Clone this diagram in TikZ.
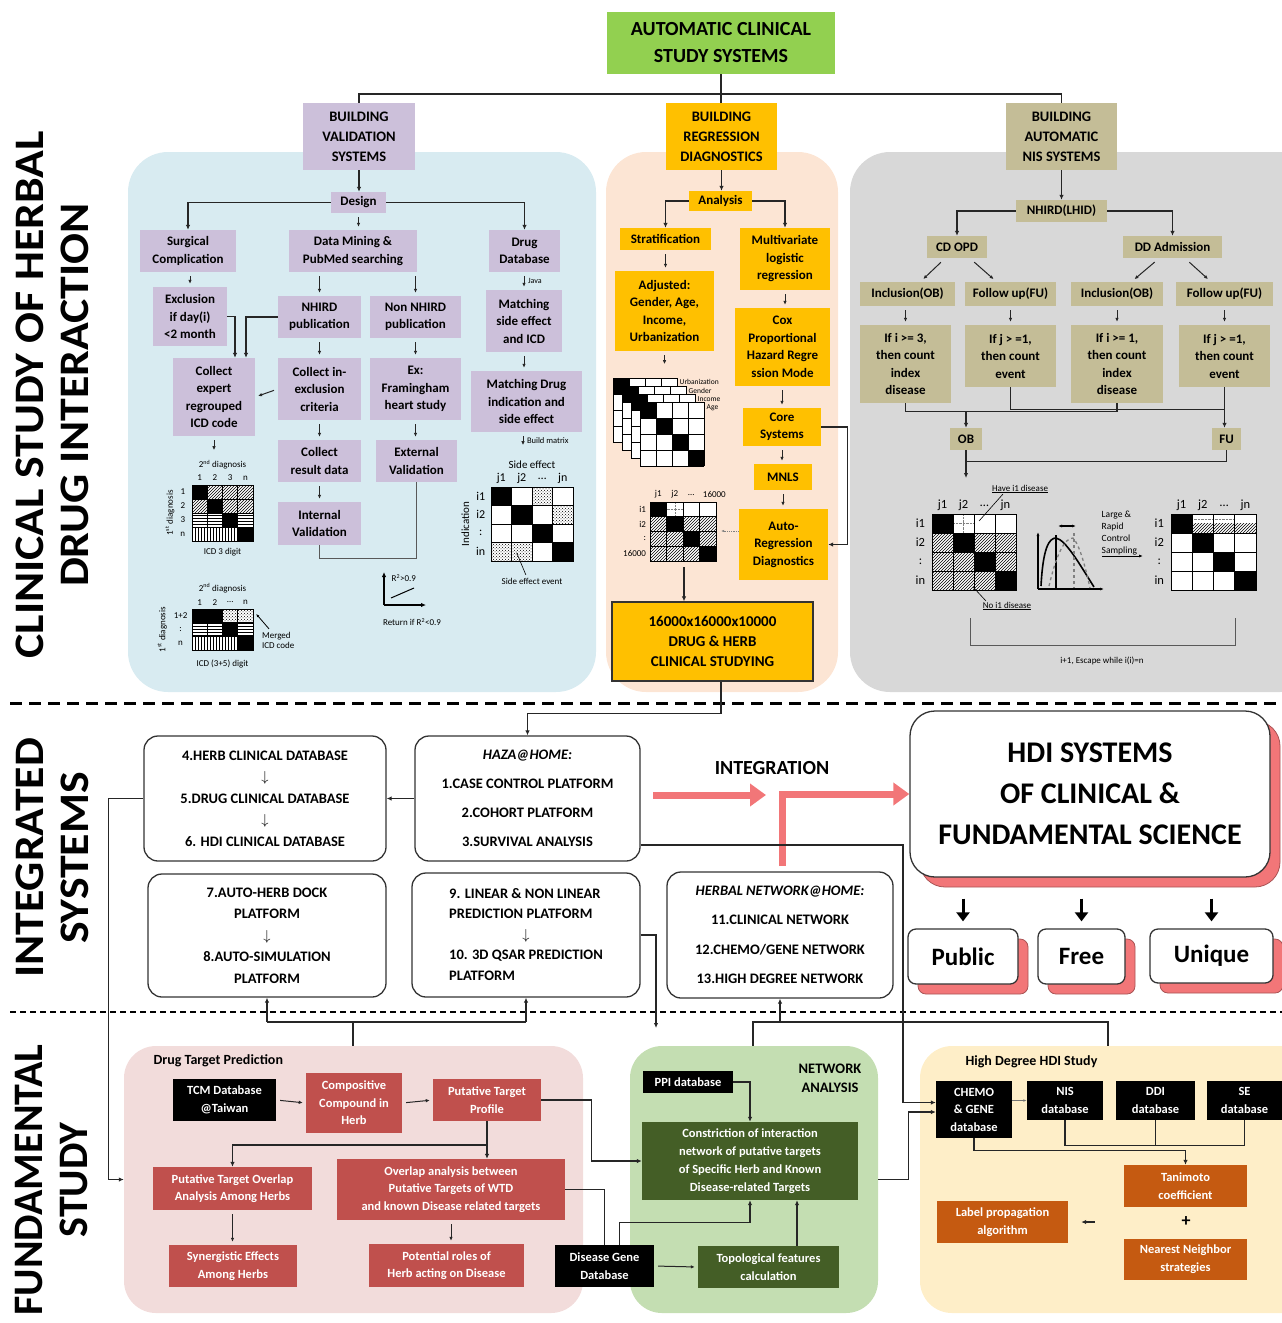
\documentclass[tikz,border=0pt]{standalone}
\usepackage{fontspec}
\setmainfont{Carlito}
\newfontfamily\lblfont[FakeStretch=1.09]{Carlito}
\usetikzlibrary{arrows.meta,patterns,calc}
\definecolor{titleg}{RGB}{146,208,80}
\definecolor{lavc}{RGB}{204,192,218}
\definecolor{orc}{RGB}{255,192,0}
\definecolor{tanc}{RGB}{196,189,151}
\definecolor{bluep}{RGB}{216,235,241}
\definecolor{peachp}{RGB}{252,229,212}
\definecolor{grayp}{RGB}{216,216,216}
\definecolor{pinkp}{RGB}{242,220,219}
\definecolor{redc}{RGB}{192,80,77}
\definecolor{greenp}{RGB}{196,222,178}
\definecolor{dgreenc}{RGB}{68,94,38}
\definecolor{yellowp}{RGB}{254,238,200}
\definecolor{brownc}{RGB}{197,90,17}
\definecolor{salmon}{RGB}{242,118,120}
\newcommand{\fs}[2]{\fontsize{#1}{#2}\selectfont}
\newcommand{\bx}[7]{\node[#6, minimum width={(#4-#2)*1pt}, minimum height={(#5-#3)*1pt}] (#1) at ({(#2+#4)/2},{(#3+#5)/2}) {#7};}
\newcommand{\glines}[2]{\foreach \ii in {0,...,#1}{\draw[line width=0.6pt] (\ii,0)--(\ii,#2);}\foreach \jj in {0,...,#2}{\draw[line width=0.6pt] (0,\jj)--(#1,\jj);}}
\tikzset{
 box/.style={inner sep=1pt, align=center, font=\bfseries\fs{13}{17.5}},
 lav/.style={box, fill=lavc},
 orb/.style={box, fill=orc},
 tanb/.style={box, fill=tanc},
 blk/.style={box, fill=black, text=white, font=\bfseries\fs{12.5}{17.5}},
 redb/.style={box, fill=redc, text=white, font=\bfseries\fs{12.5}{17.5}},
 dgb/.style={box, fill=dgreenc, text=white, font=\bfseries\fs{12.5}{18}},
 brb/.style={box, fill=brownc, text=white, font=\bfseries\fs{12.5}{18}},
 panel/.style={rounded corners=40pt, inner sep=0pt, draw=none},
 rbox/.style={box, draw=black!80, line width=1.3pt, fill=white, rounded corners=14pt, font=\bfseries\fs{14.5}{21.5}},
 shbox/.style={rbox, preaction={fill=salmon, draw=salmon!70!black, line width=0.8pt, transform canvas={xshift=10pt,yshift=-10pt}}},
 conn/.style={draw=black!85, line width=1.3pt},
 arr/.style={conn, -{Latex[length=5pt,width=4.5pt]}},
 sarr/.style={draw=black!85, line width=1pt, -{Latex[length=4pt,width=3.5pt]}, shorten <=4pt, shorten >=3pt},
 thinl/.style={draw=black!65, line width=0.9pt},
 lbl/.style={font=\fs{9}{10}, inner sep=0.5pt},
 mlbl/.style={font=\fs{12}{13}, inner sep=0.5pt},
 salarr/.style={draw=salmon, line width=7pt, -{Triangle[length=16pt,width=22pt]}},
 bigarr/.style={draw=black, line width=3pt, -{Triangle[length=9pt,width=13pt]}},
 biglbl/.style={rotate=90, align=center, font=\lblfont\bfseries\fs{42}{45}},
}
\begin{document}
\begin{tikzpicture}[x=1pt,y=-1pt]
\useasboundingbox (0,0) rectangle (1282,1323);
% ---------------- panels
\node[panel, fill=bluep, minimum width=468pt, minimum height=540pt] (pblue) at (362,422) {};
\node[panel, fill=peachp, minimum width=232pt, minimum height=540pt] (ppeach) at (722,422) {};
\node[panel, fill=grayp, minimum width=470pt, minimum height=540pt] (pgray) at (1085,422) {};
\node[panel, rounded corners=32pt, fill=pinkp, minimum width=459pt, minimum height=267pt] (ppink) at (353.5,1179.5) {};
\node[panel, rounded corners=32pt, fill=greenp, minimum width=248pt, minimum height=267pt] (pgreen) at (754,1179.5) {};
\node[panel, rounded corners=32pt, fill=yellowp, minimum width=400pt, minimum height=267pt] (pyellow) at (1120,1179.5) {};
% ---------------- left labels and separators
\node[biglbl] (lab1) at (52,395) {CLINICAL STUDY OF HERBAL\\DRUG INTERACTION};
\node[biglbl] (lab2) at (52,858) {INTEGRATED\\SYSTEMS};
\node[biglbl, font=\bfseries\fs{42}{45}] (lab3) at (52,1180) {FUNDAMENTAL\\STUDY};
\draw[line width=3pt, dash pattern=on 12pt off 7pt] (10,703) -- (1282,703);
\draw[line width=1.6pt, dash pattern=on 6pt off 4pt] (10,1012) -- (1282,1012);
% ---------------- top
\bx{title}{607}{12}{835}{74}{box, fill=titleg, font=\bfseries\fs{20}{27}}{AUTOMATIC CLINICAL\\STUDY SYSTEMS}
\bx{bval}{303}{103}{415}{170}{lav, font=\bfseries\fs{14.5}{20}}{BUILDING\\VALIDATION\\SYSTEMS}
\bx{breg}{666}{103}{777}{170}{orb, font=\bfseries\fs{14.5}{20}}{BUILDING\\REGRESSION\\DIAGNOSTICS}
\bx{bnis}{1006}{103}{1117}{170}{tanb, font=\bfseries\fs{14.5}{20}}{BUILDING\\AUTOMATIC\\NIS SYSTEMS}
\coordinate (hb) at (0,94);
\draw[conn] (title.south) -- (title.south |- breg.north);
\draw[conn] (bval.north) -- (bval.north |- hb) -- (bnis.north |- hb) -- (bnis.north);
% ---------------- blue panel
\bx{design}{331}{192}{386}{213}{lav}{Design}
\bx{surg}{140}{230}{236}{272}{lav}{Surgical\\Complication}
\bx{dm}{289}{230}{417}{272}{lav}{Data Mining \&\\PubMed searching}
\bx{drugdb}{489}{230}{560}{272}{lav}{Drug\\Database}
\bx{excl}{153}{287}{227}{346}{lav}{Exclusion\\if day(i)\\<2 month}
\bx{nhird}{278}{296}{361}{338}{lav}{NHIRD\\publication}
\bx{nonnhird}{370}{296}{461}{338}{lav}{Non NHIRD\\publication}
\bx{msei}{486}{290}{562}{352}{lav}{Matching\\side effect\\and ICD}
\bx{mdi}{471}{371}{582}{432}{lav}{Matching Drug\\indication and\\side effect}
\bx{cexp}{173}{358}{255}{436}{lav}{Collect\\expert\\regrouped\\ICD code}
\bx{cinex}{278}{358}{361}{420}{lav}{Collect in-\\exclusion\\criteria}
\bx{exfr}{370}{358}{461}{420}{lav}{Ex:\\Framingham\\heart study}
\bx{cres}{278}{440}{361}{482}{lav}{Collect\\result data}
\bx{extv}{376}{440}{457}{482}{lav}{External\\Validation}
\bx{intv}{278}{502}{361}{545}{lav}{Internal\\Validation}
\draw[arr] (bval.south) -- (bval.south |- design.north);
\draw[arr] (design.west) -| (surg.north);
\draw[arr] (design.east) -| (drugdb.north);
\draw[sarr] (design.south) -- (design.south |- dm.north);
\draw[sarr] (excl.north |- surg.south) -- (excl.north);
\draw[sarr] (nhird.north |- dm.south) -- (nhird.north);
\draw[sarr] (nonnhird.north |- dm.south) -- (nonnhird.north);
\draw[sarr] (msei.north |- drugdb.south) -- (msei.north) node[midway, right=3pt, lbl, font=\fs{8}{9}] {Java};
\draw[sarr] (msei.south) -- (msei.south |- mdi.north);
\draw[arr] (excl.east) -| ([xshift=21pt]cexp.north);
\draw[arr] (nhird.west) -| ([xshift=32pt]cexp.north);
\draw[sarr] (cinex.west) -- (cexp.east);
\draw[sarr] (nhird.south) -- (nhird.south |- cinex.north);
\draw[sarr] (nonnhird.south) -- (nonnhird.south |- exfr.north);
\draw[sarr] (cinex.south) -- (cinex.south |- cres.north);
\draw[sarr] (exfr.south) -- (exfr.south |- extv.north);
\draw[sarr] (cres.south) -- (cres.south |- intv.north);
\draw[thinl] (intv.south) -- ++(0,13) -| (extv.south);
\draw[sarr] (cexp.south) -- ++(0,17);
\draw[sarr] (mdi.south -| 523,0) -- ++(0,16) node[midway, right=3pt, lbl, font=\fs{8.5}{9}] {Build matrix};
% R2 graph
\draw[line width=1.3pt, -{Latex[length=5pt,width=4.5pt]}] (384,605) -- (384,572);
\draw[line width=1.3pt, -{Latex[length=5pt,width=4.5pt]}] (384,605) -- (426,605);
\draw[line width=1pt] (391,598) -- (414,588);
\node[lbl, anchor=west] (r2a) at (391,578) {R\textsuperscript{2}>0.9};
\node[lbl] (r2b) at (412,622) {Return if R\textsuperscript{2}<0.9};
% matrix ICD 3 digit
\begin{scope}[shift={(192,485)}, x=15.25pt, y=-14pt]
 \fill[white] (0,0) rectangle (4,4);
 \foreach \cc/\rr in {1/0,2/0,3/0,0/1,2/1,3/1} \fill[pattern=north east lines] (\cc,\rr) rectangle ++(1,1);
 \foreach \cc/\rr in {0/2,1/2,3/2} \fill[pattern=horizontal lines] (\cc,\rr) rectangle ++(1,1);
 \foreach \cc/\rr in {0/3,1/3,2/3} \fill[pattern=vertical lines] (\cc,\rr) rectangle ++(1,1);
 \foreach \cc in {0,1,2,3} \fill (\cc,\cc) rectangle ++(1,1);
 \glines{4}{4}
 \draw[line width=1pt] (0,0) rectangle (4,4);
 \foreach \t [count=\k from 0] in {1,2,3,n} {\node[lbl] at (\k+0.5,-0.5) {\t}; \node[lbl] at (-0.6,\k+0.5) {\t};}
 \node[lbl] at (2,-1.45) {2\textsuperscript{nd} diagnosis};
 \node[lbl, rotate=90] at (-1.45,2) {1\textsuperscript{st} diagnosis};
 \node[lbl] at (2,4.8) {ICD 3 digit};
\end{scope}
% matrix ICD (3+5)
\begin{scope}[shift={(192,609)}, x=15.25pt, y=-13.7pt]
 \fill[white] (0,0) rectangle (4,3);
 \foreach \cc/\rr in {2/0,3/0} \fill[pattern=crosshatch dots] (\cc,\rr) rectangle ++(1,1);
 \foreach \cc/\rr in {0/1,1/1,3/1} \fill[pattern=horizontal lines] (\cc,\rr) rectangle ++(1,1);
 \foreach \cc/\rr in {0/2,1/2,2/2} \fill[pattern=vertical lines] (\cc,\rr) rectangle ++(1,1);
 \foreach \cc/\rr in {0/0,1/0,2/1,3/2} \fill (\cc,\rr) rectangle ++(1,1);
 \glines{4}{3}
 \draw[line width=1pt] (0,0) rectangle (4,3);
 \foreach \t [count=\k from 0] in {1,2,\ldots,n} \node[lbl] at (\k+0.5,-0.5) {\t};
 \foreach \t [count=\k from 0] in {1+2,:,n} \node[lbl] at (-0.75,\k+0.5) {\t};
 \node[lbl] at (2,-1.5) {2\textsuperscript{nd} diagnosis};
 \node[lbl, rotate=90] at (-1.95,1.5) {1\textsuperscript{st} diagnosis};
 \node[lbl] at (2,4) {ICD (3+5) digit};
 \node[lbl, anchor=west, align=left] (merged) at (4.55,2.3) {Merged\\ICD code};
 \draw[line width=0.8pt, -{Latex[length=3.5pt]}] (5.05,1.45) -- (4.2,0.35);
\end{scope}
% drug side effect matrix
\begin{scope}[shift={(491,487)}, x=20.5pt, y=-18.5pt]
 \fill[white] (0,0) rectangle (4,4);
 \foreach \cc/\rr in {2/0,3/1,0/3,1/3} \fill[pattern=crosshatch dots] (\cc,\rr) rectangle ++(1,1);
 \foreach \cc in {0,1,2,3} \fill (\cc,\cc) rectangle ++(1,1);
 \glines{4}{4}
 \draw[line width=1pt] (0,0) rectangle (4,4);
 \foreach \t [count=\k from 0] in {j1,j2,\ldots,jn} \node[mlbl] at (\k+0.5,-0.45) {\t};
 \foreach \t [count=\k from 0] in {i1,i2,:,in} \node[mlbl] at (-0.5,\k+0.5) {\t};
 \node[lbl, font=\fs{11}{12}] at (2,-1.2) {Side effect};
 \node[lbl, rotate=90, font=\fs{11}{12}] at (-1.25,2) {Indication};
 \node[lbl] at (2,5.1) {Side effect event};
 \draw[line width=0.6pt] (1.7,4.75) -- (1.25,3.55);
\end{scope}
% ---------------- peach panel
\bx{analysis}{689}{191}{752}{211}{orb}{Analysis}
\bx{strat}{620}{228}{711}{250}{orb}{Stratification}
\bx{multi}{740}{228}{830}{290}{orb}{Multivariate\\logistic\\regression}
\bx{adj}{615}{271}{714}{351}{orb}{Adjusted:\\Gender, Age,\\Income,\\Urbanization}
\bx{cox}{735}{308}{830}{386}{orb}{Cox\\Proportional\\Hazard Regre\\ssion Mode}
\bx{core}{743}{408}{821}{446}{orb}{Core\\Systems}
\bx{mnls}{754}{464}{812}{490}{orb}{MNLS}
\bx{auto}{739}{509}{828}{580}{orb}{Auto-\\Regression\\Diagnostics}
\bx{big}{612}{602}{813}{681}{orb, draw=black!80, line width=1.3pt, font=\bfseries\fs{15}{20}}{16000x16000x10000\\DRUG \& HERB\\CLINICAL STUDYING}
\draw[arr] (breg.south) -- (breg.south |- analysis.north);
\draw[arr] (analysis.west) -| (strat.north);
\draw[arr] (analysis.east) -| (multi.north);
\draw[sarr] (strat.south) -- (strat.south |- adj.north);
\draw[sarr] (multi.south) -- (multi.south |- cox.north);
\draw[sarr] (core.north |- cox.south) -- (core.north);
\draw[sarr] (core.south) -- (core.south |- mnls.north);
\draw[sarr] (mnls.south) -- (mnls.south |- auto.north);
\draw[arr] (core.east) -- ++(26,0) |- (auto.east);
\draw[sarr] (adj.south) -- ++(0,16);
% stacked matrices
\foreach \k in {0,1,2,3} {
 \begin{scope}[shift={({613+9*\k},{378+8*\k})}, x=16pt, y=-16pt]
  \fill[white] (0,0) rectangle (4,4);
  \foreach \cc in {0,1,2,3} \fill (\cc,\cc) rectangle ++(1,1);
  \glines{4}{4}
 \end{scope}
}
\foreach \t [count=\k from 0] in {Urbanization,Gender,Income,Age}
 \node[lbl, font=\fs{7.5}{8}, anchor=west] at ({679+9*\k},{382+8.5*\k}) {\t};
% 16000 matrix
\begin{scope}[shift={(650,502)}, x=16.5pt, y=-14.75pt]
 \fill[white] (0,0) rectangle (4,4);
 \foreach \cc/\rr in {0/1,2/1,3/1,0/2,1/2,3/2,0/3,1/3,2/3} \fill[pattern=north east lines] (\cc,\rr) rectangle ++(1,1);
 \foreach \cc in {0,1,2,3} \fill (\cc,\cc) rectangle ++(1,1);
 \draw[gray, densely dotted] (1.5,0) -- (1.5,1) (1,0.5) -- (2,0.5);
 \glines{4}{4}
 \draw[line width=1pt] (0,0) rectangle (4,4);
 \foreach \t [count=\k from 0] in {j1,j2,\ldots} \node[lbl] at (\k+0.5,-0.5) {\t};
 \node[lbl] at (3.9,-0.5) {16000};
 \foreach \t [count=\k from 0] in {i1,i2,:,16000} \node[lbl, anchor=east] at (-0.2,\k+0.5) {\t};
\end{scope}
\draw[densely dotted, line width=0.8pt, gray, -{Latex[length=3pt]}] (auto.west |- 0,531) -- (721,531);
\draw[arr] (684,567) -- (684,0 |- big.north);
% ---------------- gray panel
\bx{nhirdl}{1016}{200}{1107}{222}{tanb}{NHIRD(LHID)}
\bx{cdopd}{927}{236}{987}{258}{tanb}{CD OPD}
\bx{ddadm}{1123}{236}{1222}{258}{tanb}{DD Admission}
\bx{inc1}{860}{282}{955}{306}{tanb}{Inclusion(OB)}
\bx{fu1}{965}{282}{1056}{306}{tanb}{Follow up(FU)}
\bx{inc2}{1071}{282}{1163}{306}{tanb}{Inclusion(OB)}
\bx{fu2}{1176}{282}{1273}{306}{tanb}{Follow up(FU)}
\bx{c1}{860}{325}{951}{403}{tanb}{If i >= 3,\\then count\\index\\disease}
\bx{c2}{965}{325}{1056}{387}{tanb}{If j > =1,\\then count\\event}
\bx{c3}{1071}{325}{1163}{403}{tanb}{If i >= 1,\\then count\\index\\disease}
\bx{c4}{1179}{325}{1270}{387}{tanb}{If j > =1,\\then count\\event}
\bx{ob}{950}{428}{982}{450}{tanb}{OB}
\bx{fu}{1212}{428}{1241}{450}{tanb}{FU}
\draw[arr] (bnis.south) -- (nhirdl.north);
\draw[arr] (nhirdl.west) -| (cdopd.north);
\draw[arr] (nhirdl.east) -| (ddadm.north);
\draw[sarr, shorten <=6pt, shorten >=4pt] (cdopd) -- (inc1);
\draw[sarr, shorten <=6pt, shorten >=4pt] (cdopd) -- (fu1);
\draw[sarr, shorten <=6pt, shorten >=4pt] (ddadm) -- (inc2);
\draw[sarr, shorten <=6pt, shorten >=4pt] (ddadm) -- (fu2);
\foreach \a/\b in {inc1/c1,fu1/c2,inc2/c3,fu2/c4} \draw[sarr] (\b.north |- \a.south) -- (\b.north);
\draw[conn] (c1.south) -- ++(0,8) -| (c3.south);
\draw[conn] (c2.south) -- ++(0,22) -| (c4.south);
\draw[arr] (ob.north |- 0,411) -- (ob.north);
\draw[arr] (c4.south |- 0,409) -- (c4.south |- fu.north);
\draw[conn] (ob.south) -- ++(0,11) -| (fu.south);
\draw[arr] (ob.south |- 0,461) -- ++(0,17);
% left gray matrix
\begin{scope}[shift={(932,514)}, x=21pt, y=-19pt]
 \fill[white] (0,0) rectangle (4,4);
 \foreach \cc/\rr in {0/1,2/1,3/1,0/2,1/2,3/2,0/3,1/3,2/3} \fill[pattern=north east lines] (\cc,\rr) rectangle ++(1,1);
 \foreach \cc in {0,1,2,3} \fill (\cc,\cc) rectangle ++(1,1);
 \draw[gray, densely dotted] (1.5,0) -- (1.5,1) (1,0.5) -- (2,0.5);
 \glines{4}{4}
 \draw[line width=1pt] (0,0) rectangle (4,4);
 \foreach \t [count=\k from 0] in {j1,j2,\ldots,jn} \node[mlbl, font=\fs{12.5}{13}] at (\k+0.5,-0.45) {\t};
 \foreach \t [count=\k from 0] in {i1,i2,:,in} \node[mlbl, font=\fs{12.5}{13}] at (-0.55,\k+0.5) {\t};
\end{scope}
\node[lbl] (have) at (1020,489) {\underline{Have i1 disease}};
\draw[line width=0.6pt] (1003,494) -- (979,521);
\node[lbl] (noi) at (1007,606) {\underline{No i1 disease}};
\draw[line width=0.6pt] (986,601) -- (973,587);
% distribution graph
\draw[line width=1.1pt, -{Latex[length=4pt]}] (1038,589) -- (1038,532);
\draw[line width=1.1pt, -{Latex[length=4pt]}] (1038,589) -- (1104,589);
\draw[line width=1.6pt] (1041,586) .. controls (1043,548) and (1049,538) .. (1056,538) .. controls (1066,540) and (1080,565) .. (1094,587);
\draw[line width=1.4pt] (1056,535) -- (1056,590);
\draw[gray, line width=1.3pt, dashed] (1049,586) .. controls (1056,556) and (1064,538) .. (1073,538) .. controls (1080,545) and (1086,570) .. (1090,588);
\draw[gray, line width=1.2pt, dashed] (1074,533) -- (1074,588);
\draw[line width=1.2pt, {Latex[length=4pt]}-{Latex[length=4pt]}] (1058,526) -- (1076,526);
\node[lbl, anchor=north west, align=left, font=\fs{9.5}{12}] (lrcs) at (1101,510) {Large \&\\Rapid\\Control\\Sampling};
\draw[line width=0.9pt, -{Latex[length=4pt]}] (1102,556) -- (1143,556);
% right gray matrix
\begin{scope}[shift={(1171,514)}, x=21.25pt, y=-19pt]
 \fill[white] (0,0) rectangle (4,4);
 \fill[pattern=north east lines] (1,0.5) rectangle (4,1);
 \foreach \cc in {0,1,2,3} \fill (\cc,\cc) rectangle ++(1,1);
 \draw[gray, densely dotted] (1,0.25) -- (3,0.25);
 \glines{4}{4}
 \draw[line width=1pt] (0,0) rectangle (4,4);
 \foreach \t [count=\k from 0] in {j1,j2,\ldots,jn} \node[mlbl, font=\fs{12.5}{13}] at (\k+0.5,-0.45) {\t};
 \foreach \t [count=\k from 0] in {i1,i2,:,in} \node[mlbl, font=\fs{12.5}{13}] at (-0.55,\k+0.5) {\t};
\end{scope}
\draw[thinl] (970,618) -- (970,645) -- (1235,645) -- (1235,618);
\node[lbl] (esc) at (1102,661) {i+1, Escape while i(i)=n};
% ---------------- integrated systems
\bx{db456}{144}{736}{386}{861}{rbox}{4.HERB CLINICAL DATABASE\\$\downarrow$\\5.DRUG CLINICAL DATABASE\\$\downarrow$\\6. HDI CLINICAL DATABASE}
\bx{haza}{415}{736}{640}{861}{rbox, font=\bfseries\fs{14.5}{29}}{\textit{HAZA@HOME:}\\1.CASE CONTROL PLATFORM\\2.COHORT PLATFORM\\3.SURVIVAL ANALYSIS}
\bx{b78}{148}{874}{386}{997}{rbox}{7.AUTO-HERB DOCK\\PLATFORM\\$\downarrow$\\8.AUTO-SIMULATION\\PLATFORM}
\bx{b910}{412}{873}{640}{997}{rbox, font=\bfseries\fs{14.5}{20.5}}{\begin{tabular}{@{}l@{}}9. LINEAR \& NON LINEAR\\PREDICTION PLATFORM\\\multicolumn{1}{c}{$\downarrow$}\\10. 3D QSAR PREDICTION\\PLATFORM\end{tabular}}
\bx{herbal}{667}{872}{893}{998}{rbox, font=\bfseries\fs{14.5}{29.5}}{\textit{HERBAL NETWORK@HOME:}\\11.CLINICAL NETWORK\\12.CHEMO/GENE NETWORK\\13.HIGH DEGREE NETWORK}
\node[font=\bfseries\fs{20}{24}] (integ) at (772,768) {INTEGRATION};
\bx{hdi}{910}{711}{1270}{877}{shbox, rounded corners=25pt, font=\bfseries\fs{30}{41}}{HDI SYSTEMS\\OF CLINICAL \&\\FUNDAMENTAL SCIENCE}
\bx{pub}{908}{929}{1018}{984}{shbox, rounded corners=8pt, font=\bfseries\fs{25}{28}}{Public}
\bx{free}{1038}{929}{1125}{984}{shbox, rounded corners=8pt, font=\bfseries\fs{25}{28}}{Free}
\bx{uniq}{1150}{929}{1273}{983}{shbox, rounded corners=8pt, font=\bfseries\fs{25}{28}}{Unique}
\foreach \n in {pub,free,uniq} \draw[bigarr, shorten <=21pt, shorten >=7pt] (hdi.south -| \n) -- (\n.north);
\draw[salarr] (653,795) -- (766,795);
\draw[salarr] (782,866) |- (hdi.west);
\draw[arr] ([xshift=8.5pt]big.south) -- ++(0,32) -| (haza.north);
\draw[arr] (haza.west) -- (db456.east);
\draw[arr] (db456.west) -- ++(-35,0) |- (ppink.west);
\draw[arr] (b910.east) -| (656,1028);
\coordinate (jl) at (0,1022);
\draw[conn] (b78.south |- jl) -- (b910.south |- jl);
\draw[arr] (b78.south |- jl) -- (b78.south);
\draw[arr] (b910.south |- jl) -- (b910.south);
\draw[conn] (353,1022) -- (353,0 |- ppink.north);
\draw[conn] (753,0 |- pgreen.north) -- (753,1022) -- (1108,1022) -- (1108,0 |- pyellow.north);
\draw[arr] (herbal.south |- jl) -- (herbal.south);
% ---------------- pink panel
\node[font=\bfseries\fs{14}{16}, anchor=west] (dtp) at (150,1061) {Drug Target Prediction};
\bx{tcm}{173}{1079}{276}{1121}{blk}{TCM Database\\@Taiwan}
\bx{comp}{306}{1073}{402}{1133}{redb}{Compositive\\Compound in\\Herb}
\bx{ptp}{433}{1079}{541}{1121}{redb}{Putative Target\\Profile}
\bx{pto}{153}{1167}{312}{1210}{redb}{Putative Target Overlap\\Analysis Among Herbs}
\bx{ova}{337}{1159}{565}{1220}{redb}{Overlap analysis between\\Putative Targets of WTD\\and known Disease related targets}
\bx{syn}{169}{1245}{297}{1287}{redb}{Synergistic Effects\\Among Herbs}
\bx{pot}{369}{1244}{524}{1287}{redb}{Potential roles of\\Herb acting on Disease}
\draw[sarr] (tcm.east) -- (comp.west);
\draw[sarr] (comp.east) -- (ptp.west);
\draw[arr] (ptp.south) -- (ptp.south |- ova.north);
\draw[arr] (ptp.south |- 0,1145) -| (pto.north);
\draw[sarr] (pto.south) -- (pto.south |- syn.north);
\draw[sarr] (ova.south) -- (ova.south |- pot.north);
% ---------------- green panel
\node[font=\bfseries\fs{14.5}{19}, align=center] (netan) at (830,1078) {NETWORK\\ANALYSIS};
\bx{ppi}{643}{1071}{733}{1093}{blk}{PPI database}
\bx{constr}{642}{1122}{858}{1200}{dgb}{Constriction of interaction\\network of putative targets\\of Specific Herb and Known\\Disease-related Targets}
\bx{dgd}{555}{1245}{654}{1287}{blk}{Disease Gene\\Database}
\bx{topo}{698}{1246}{839}{1288}{dgb}{Topological features\\calculation}
\draw[arr] (ptp.east) -- ++(50,0) |- (constr.west);
\draw[conn] (ova.east) -| (dgd.north);
\draw[arr] (ppi.east) -| (constr.north);
\draw[arr] ([xshift=15pt]dgd.north) -- ++(0,-22) -| (constr.south);
\draw[sarr] (dgd.east) -- (topo.west);
\draw[arr] ([xshift=28.5pt]topo.north) -- ([xshift=28.5pt]topo.north |- constr.south);
% ---------------- yellow panel
\node[font=\bfseries\fs{14}{16}, anchor=west] (hdhs) at (962,1062) {High Degree HDI Study};
\bx{chemo}{936}{1081}{1012}{1138}{blk}{CHEMO\\\& GENE\\database}
\bx{nis}{1027}{1081}{1103}{1120}{blk}{NIS\\database}
\bx{ddi}{1116}{1081}{1195}{1120}{blk}{DDI\\database}
\bx{se}{1207}{1081}{1282}{1120}{blk}{SE\\database}
\bx{tani}{1124}{1165}{1247}{1207}{brb}{Tanimoto\\coefficient}
\bx{nn}{1124}{1239}{1247}{1280}{brb}{Nearest Neighbor\\strategies}
\bx{lpa}{937}{1201}{1068}{1243}{brb}{Label propagation\\algorithm}
\node[font=\bfseries\fs{18}{20}] (plus) at (1186,1222) {+};
\draw[arr] ([yshift=-46.5pt]haza.east) -| (903,1000) |- ([yshift=7pt]chemo.west);
\draw[arr] (pgreen.east) -- ++(30,0) |- ([yshift=-2.5pt]chemo.west);
\draw[draw=black!55, line width=1pt, -{Latex[length=3.5pt]}] (chemo.east |- nis.west) -- (nis.west);
\draw[arr] (chemo.south) -- ++(0,12) -| (tani.north);
\draw[conn] (nis.south) -- ++(0,25) -| (se.south);
\draw[conn] (ddi.south) -- ++(0,25);
\draw[arr, shorten <=83pt, shorten >=13pt] (plus) -- (lpa.east |- plus);
\end{tikzpicture}
\end{document}
